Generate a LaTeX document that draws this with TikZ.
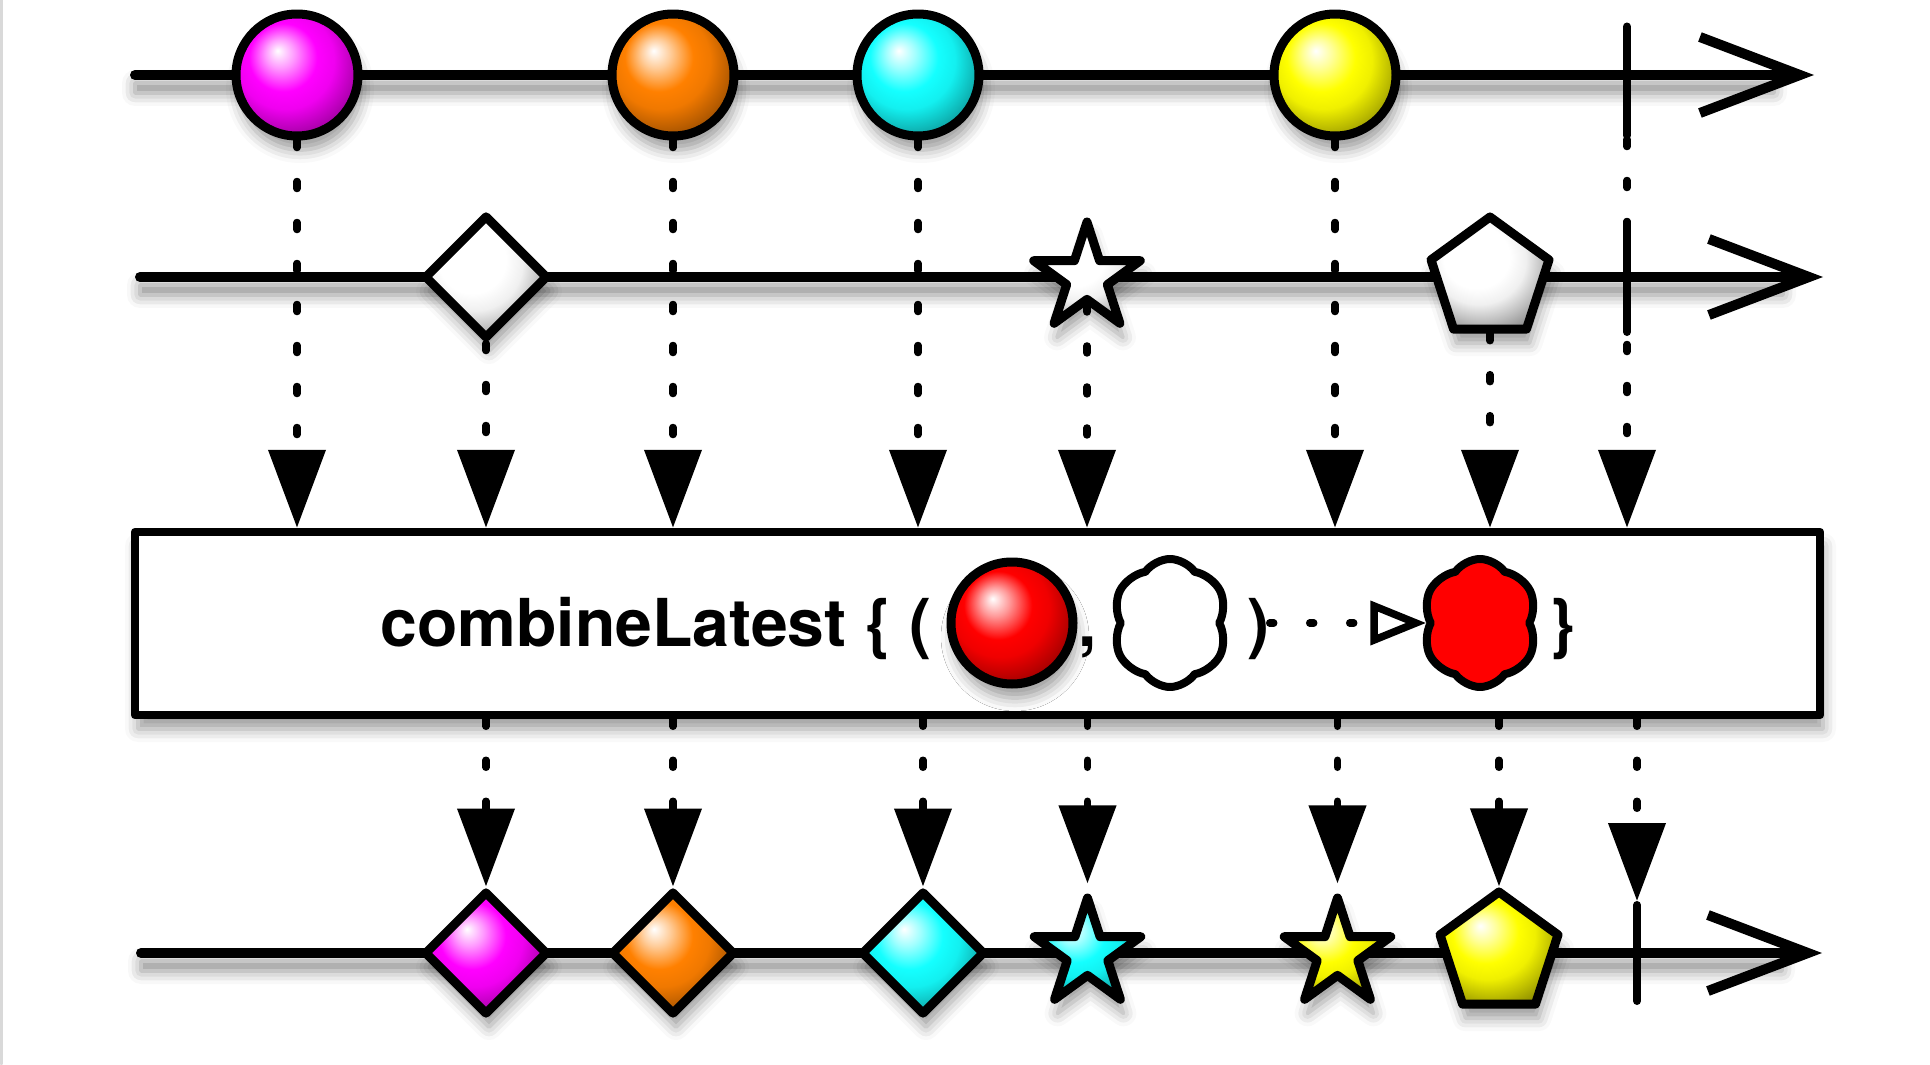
\documentclass[tikz,border=0pt]{standalone}
\usepackage{fontspec}
\newfontfamily\helv{TeX Gyre Heros}
\usetikzlibrary{arrows.meta,calc,shapes.geometric,shapes.symbols,shadows.blur}

\definecolor{rxmagenta}{RGB}{255,0,255}
\definecolor{rxorange}{RGB}{255,128,0}
\definecolor{rxcyan}{RGB}{20,255,255}
\definecolor{rxyellow}{RGB}{255,255,0}
\definecolor{rxred}{RGB}{255,0,0}
\colorlet{rxc}{white}

% glassy highlight, light in the upper left, darker to the lower right
\pgfdeclareradialshading[rxc]{glass}{\pgfqpoint{-8bp}{10bp}}{%
    color(0bp)=(white);
    color(6bp)=(rxc!40!white);
    color(14bp)=(rxc);
    color(20bp)=(rxc!94!black);
    color(26bp)=(rxc!75!black);
    color(32bp)=(rxc!55!black);
    color(38bp)=(rxc!45!black);
    color(50bp)=(rxc!40!black)}

\begin{document}
\begin{tikzpicture}[
    line cap=round,
    line join=round,
    font=\helv\bfseries\fontsize{18.8}{22}\selectfont,
    softshadow/.style={blur shadow={shadow xshift=0.3mm, shadow yshift=-1.4mm,
        shadow blur radius=1.3mm, shadow opacity=40}},
    lineshadow/.style={blur shadow={shadow xshift=0mm, shadow yshift=-1.3mm,
        shadow blur radius=1.3mm, shadow opacity=45}},
    glossy/.style={/utils/exec={\colorlet{rxc}{#1}}, shading=glass},
    marble/.style={circle, draw, line width=0.09cm, minimum size=1.22cm,
        inner sep=0pt, glossy=#1, softshadow},
    gem/.style={diamond, draw, line width=0.09cm, minimum size=1.24cm,
        inner sep=0pt, glossy=#1, softshadow},
    spark/.style={star, star points=5, star point ratio=2.618, draw,
        line width=0.09cm, minimum size=1.12cm, inner sep=0pt, glossy=#1, softshadow},
    penta/.style={regular polygon, regular polygon sides=5, draw,
        line width=0.09cm, minimum size=1.24cm, inner sep=0pt, glossy=#1, softshadow},
    puff/.style={cloud, cloud puffs=6, cloud puff arc=110, cloud ignores aspect,
        draw, line width=0.08cm, minimum width=1.16cm, minimum height=1.28cm,
        inner sep=0pt, fill=#1},
    endbar/.style={draw, line width=0.08cm, minimum width=0pt,
        minimum height=#1, inner sep=0pt},
    timeline/.style={line width=0.1cm, -{Straight Barb[length=10mm,width=7.6mm]}},
    feed/.style={line width=0.075cm, dash pattern=on 0.07cm off 0.34cm,
        -{Triangle[length=7.8mm,width=5.6mm,fill=black]}},
    fnarrow/.style={line width=0.075cm, dash pattern=on 0.04cm off 0.36cm,
        -{Triangle[open,length=5.6mm,width=4.3mm,fill=white]}},
    opbox/.style={draw, line width=0.085cm, minimum width=16.85cm,
        minimum height=1.83cm, fill=white, softshadow}
]

\useasboundingbox (0,0) rectangle (19.30,10.64);

% Screenshot edge
\draw[gray!30, line width=0.3mm] (0.015,0) -- (0.015,10.64);

% Timeline ends
\coordinate (a1) at (1.35,9.89);  \coordinate (b1) at (18.14,9.89);
\coordinate (a2) at (1.40,7.87);  \coordinate (b2) at (18.23,7.87);
\coordinate (a3) at (1.41,1.11);  \coordinate (b3) at (18.22,1.11);

% Timeline shadows
\path[lineshadow] ($(a1)+(0,-0.05)$) rectangle ($(b1)+(-0.4,0.05)$);
\path[lineshadow] ($(a2)+(0,-0.05)$) rectangle ($(b2)+(-0.4,0.05)$);
\path[lineshadow] ($(a3)+(0,-0.05)$) rectangle ($(b3)+(-0.4,0.05)$);

% Timelines
\draw[timeline] (a1) -- (b1);
\draw[timeline] (a2) -- (b2);
\draw[timeline] (a3) -- (b3);

% First source
\node[marble=rxmagenta] (m1) at (2.97,9.89) {};
\node[marble=rxorange]  (m2) at (6.73,9.89) {};
\node[marble=rxcyan]    (m3) at (9.18,9.89) {};
\node[marble=rxyellow]  (m4) at (13.35,9.89) {};
\node[endbar=1.09cm]    (e1) at (16.27,9.83) {};

% Second source
\node[gem=white]   (d1) at (4.86,7.87) {};
\node[spark=white] (s1) at (10.87,7.86) {};
\node[penta=white] (p1) at (14.90,7.85) {};
\node[endbar=1.10cm] (e2) at (16.27,7.87) {};

% Operator box
\node[opbox] (op) at (9.775,4.405) {};
\node[anchor=base west, inner sep=0pt] (fname) at (3.80,4.18) {combineLatest \{ (};
\node[marble=rxred] (rball) at (10.12,4.41) {};
\node[anchor=base, inner sep=0pt] (comma) at (10.88,4.18) {,};
\node[puff=white] (wcloud) at (11.70,4.41) {};
\node[anchor=base, inner sep=0pt] (rparen) at (12.58,4.18) {)};
\node[puff=rxred] (rcloud) at (14.80,4.41) {};
\node[anchor=base, inner sep=0pt] (rbrace) at (15.62,4.18) {\}};
\draw[fnarrow] (rparen.east |- rcloud.west) -- (rcloud.west);

% Result
\node[gem=rxmagenta]   (r1) at (4.86,1.11) {};
\node[gem=rxorange]    (r2) at (6.73,1.11) {};
\node[gem=rxcyan]      (r3) at (9.23,1.11) {};
\node[spark=rxcyan]    (r4) at (10.875,1.10) {};
\node[spark=rxyellow]  (r5) at (13.375,1.10) {};
\node[penta=rxyellow]  (r6) at (14.99,1.10) {};
\node[endbar=0.96cm]   (e3) at (16.37,1.11) {};

% Feeds into the operator
\draw[feed] (m1.south) -- (m1 |- op.north);
\draw[feed] (d1.south) -- (d1 |- op.north);
\draw[feed] (m2.south) -- (m2 |- op.north);
\draw[feed] (m3.south) -- (m3 |- op.north);
\draw[feed] (s1.south) -- (s1 |- op.north);
\draw[feed] (m4.south) -- (m4 |- op.north);
\draw[feed] (p1.south) -- (p1 |- op.north);
\draw[feed] (e1.south) -- (e1 |- op.north);

% Feeds out of the operator
\draw[feed] (r1 |- op.south) -- (r1.north);
\draw[feed] (r2 |- op.south) -- (r2.north);
\draw[feed] (r3 |- op.south) -- (r3.north);
\draw[feed] (r4 |- op.south) -- (r4.north);
\draw[feed] (r5 |- op.south) -- (r5.north);
\draw[feed] (r6 |- op.south) -- (r6.north);
\draw[feed] (e3 |- op.south) -- (e3.north);

\end{tikzpicture}
\end{document}
